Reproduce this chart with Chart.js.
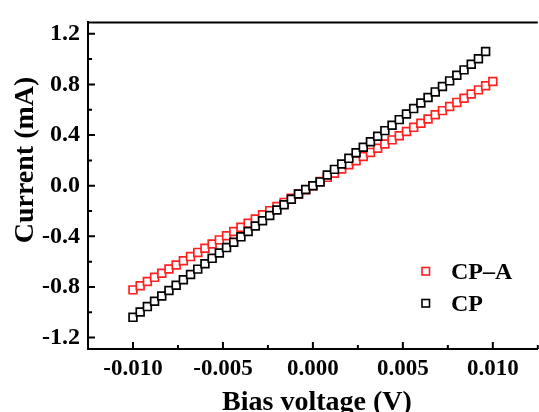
<!DOCTYPE html>
<html>
<head>
<meta charset="utf-8">
<script src="https://cdn.jsdelivr.net/npm/chart.js@4.4.1/dist/chart.umd.min.js"></script>
<style>
  html, body { margin: 0; padding: 0; background: #fff; overflow: hidden; }
  #wrap { width: 545px; height: 412px; }
</style>
</head>
<body>
<div id="wrap"><canvas id="ivChart" width="545" height="412"></canvas></div>
<script>
// I-V sweep, bias voltage in V, current in mA
const cpaVoltage = [
  -0.0100, -0.0096, -0.0092, -0.0088, -0.0084, -0.0080, -0.0076, -0.0072, -0.0068, -0.0064,
  -0.0060, -0.0056, -0.0052, -0.0048, -0.0044, -0.0040, -0.0036, -0.0032, -0.0028, -0.0024,
  -0.0020, -0.0016, -0.0012, -0.0008, -0.0004, 0.0000, 0.0004, 0.0008, 0.0012, 0.0016,
  0.0020, 0.0024, 0.0028, 0.0032, 0.0036, 0.0040, 0.0044, 0.0048, 0.0052, 0.0056,
  0.0060, 0.0064, 0.0068, 0.0072, 0.0076, 0.0080, 0.0084, 0.0088, 0.0092, 0.0096, 0.0100
];
const cpaCurrent = [
  -0.823, -0.790, -0.757, -0.724, -0.691, -0.658, -0.626, -0.593, -0.560, -0.527,
  -0.494, -0.461, -0.428, -0.395, -0.362, -0.329, -0.296, -0.263, -0.230, -0.197,
  -0.165, -0.132, -0.099, -0.066, -0.033, 0.000, 0.033, 0.066, 0.099, 0.132,
  0.165, 0.197, 0.230, 0.263, 0.296, 0.329, 0.362, 0.395, 0.428, 0.461,
  0.494, 0.527, 0.560, 0.593, 0.626, 0.658, 0.691, 0.724, 0.757, 0.790, 0.823
];
const cpVoltage = [
  -0.0100, -0.0096, -0.0092, -0.0088, -0.0084, -0.0080, -0.0076, -0.0072, -0.0068, -0.0064,
  -0.0060, -0.0056, -0.0052, -0.0048, -0.0044, -0.0040, -0.0036, -0.0032, -0.0028, -0.0024,
  -0.0020, -0.0016, -0.0012, -0.0008, -0.0004, 0.0000, 0.0004, 0.0008, 0.0012, 0.0016,
  0.0020, 0.0024, 0.0028, 0.0032, 0.0036, 0.0040, 0.0044, 0.0048, 0.0052, 0.0056,
  0.0060, 0.0064, 0.0068, 0.0072, 0.0076, 0.0080, 0.0084, 0.0088, 0.0092, 0.0096
];
const cpCurrent = [
  -1.040, -0.998, -0.955, -0.913, -0.871, -0.828, -0.786, -0.743, -0.701, -0.659,
  -0.616, -0.574, -0.531, -0.489, -0.447, -0.404, -0.362, -0.319, -0.277, -0.235,
  -0.192, -0.150, -0.107, -0.065, -0.030, 0.000, 0.030, 0.085, 0.129, 0.172,
  0.216, 0.260, 0.304, 0.347, 0.391, 0.435, 0.478, 0.522, 0.566, 0.609,
  0.653, 0.697, 0.741, 0.784, 0.828, 0.872, 0.915, 0.959, 1.003, 1.060
];
const seriesNames = ['CP\u2013A', 'CP'];
const seriesColors = ['#ff2020', '#000000'];
const xTickLabels = ['-0.010', '-0.005', '0.000', '0.005', '0.010'];
const yTickLabels = ['-1.2', '-0.8', '-0.4', '0.0', '0.4', '0.8', '1.2'];

const FONT = '"Liberation Serif", "Times New Roman", serif';

function toPoints(xs, ys) {
  return xs.map((x, i) => ({ x: x, y: ys[i] }));
}

// inward major/minor ticks, frame line on top, axis titles and the inset legend
const decorPlugin = {
  id: 'decor',
  afterDraw(chart) {
    const ctx = chart.ctx;
    const area = chart.chartArea;
    const xs = chart.scales.x;
    const ys = chart.scales.y;
    ctx.save();
    ctx.strokeStyle = '#000';
    ctx.lineWidth = 2;
    ctx.beginPath();
    xs.ticks.forEach(t => {
      const px = xs.getPixelForValue(t.value);
      const len = t.label ? 7 : 4;
      ctx.moveTo(px, area.bottom);
      ctx.lineTo(px, area.bottom - len);
    });
    ys.ticks.forEach(t => {
      const py = ys.getPixelForValue(t.value);
      const len = t.label ? 7 : 4;
      ctx.moveTo(area.left, py);
      ctx.lineTo(area.left + len, py);
    });
    // top frame line
    ctx.moveTo(area.left, area.top);
    ctx.lineTo(area.right, area.top);
    ctx.stroke();

    // axis titles
    ctx.fillStyle = '#000';
    ctx.font = 'bold 28px ' + FONT;
    ctx.textAlign = 'center';
    ctx.textBaseline = 'alphabetic';
    ctx.fillText('Bias voltage (V)', 317, 410);
    ctx.save();
    ctx.translate(33, 160);
    ctx.rotate(-Math.PI / 2);
    ctx.fillText('Current (mA)', 0, 0);
    ctx.restore();

    // legend
    ctx.font = 'bold 24px ' + FONT;
    ctx.textAlign = 'left';
    ctx.lineWidth = 1.6;
    seriesNames.forEach((name, i) => {
      const cy = 271 + i * 32;
      ctx.strokeStyle = seriesColors[i];
      ctx.fillStyle = '#fff';
      ctx.fillRect(422, cy - 3.5, 7.5, 7.5);
      ctx.strokeRect(422, cy - 3.5, 7.5, 7.5);
      ctx.fillStyle = '#000';
      ctx.fillText(name, 451, cy + 8);
    });
    ctx.restore();
  }
};

new Chart(document.getElementById('ivChart'), {
  type: 'scatter',
  data: {
    datasets: [
      {
        label: seriesNames[1],
        data: toPoints(cpVoltage, cpCurrent),
        borderColor: seriesColors[1],
        backgroundColor: '#ffffff',
        pointStyle: 'rect',
        pointRadius: 5.5,
        pointBorderWidth: 1.7
      },
      {
        label: seriesNames[0],
        data: toPoints(cpaVoltage, cpaCurrent),
        borderColor: seriesColors[0],
        backgroundColor: '#ffffff',
        pointStyle: 'rect',
        pointRadius: 5.5,
        pointBorderWidth: 1.7
      }
    ]
  },
  options: {
    responsive: false,
    animation: false,
    events: [],
    layout: { padding: { top: 10, right: 3, left: 0, bottom: 0 } },
    plugins: {
      legend: { display: false },
      tooltip: { enabled: false }
    },
    scales: {
      x: {
        type: 'linear',
        min: -0.0125,
        max: 0.0125,
        afterFit: s => { s.height = 63; },
        border: { display: true, color: '#000', width: 2 },
        grid: { display: false, drawTicks: false },
        ticks: {
          stepSize: 0.0025,
          includeBounds: false,
          autoSkip: false,
          maxRotation: 0,
          padding: 6,
          color: '#000',
          font: { family: FONT, size: 23, weight: 'bold' },
          callback: v => {
            const label = (Math.abs(v) < 1e-9 ? 0 : v).toFixed(3);
            return xTickLabels.includes(label) ? label : '';
          }
        }
      },
      y: {
        type: 'linear',
        min: -1.29,
        max: 1.29,
        afterFit: s => { s.width = 88; },
        border: { display: true, color: '#000', width: 2 },
        grid: { display: false, drawTicks: false },
        ticks: {
          stepSize: 0.2,
          includeBounds: false,
          autoSkip: false,
          padding: 8,
          color: '#000',
          font: { family: FONT, size: 24, weight: 'bold' },
          callback: v => {
            const label = (Math.abs(v) < 1e-9 ? 0 : v).toFixed(1);
            return yTickLabels.includes(label) ? label : '';
          }
        }
      }
    }
  },
  plugins: [decorPlugin]
});
</script>
</body>
</html>
